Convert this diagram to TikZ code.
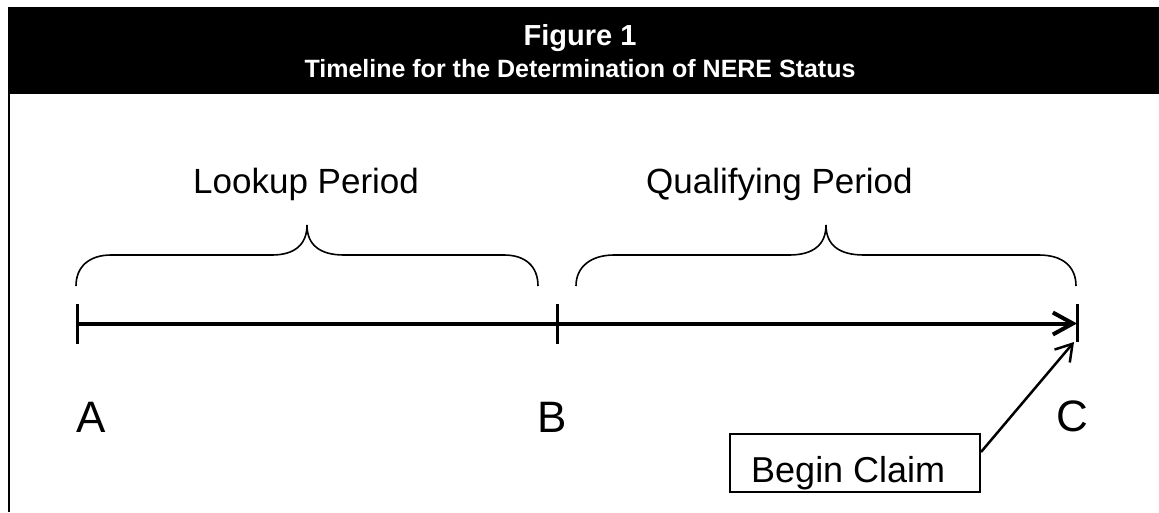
\documentclass[tikz,border=0pt]{standalone}
\usepackage{fontspec}
\setmainfont{Liberation Sans}
\usetikzlibrary{arrows.meta}
\begin{document}
\begin{tikzpicture}[x=1pt,y=-1pt,
  lbl/.style={inner sep=0pt,anchor=base west,font=\fontsize{44}{48}\selectfont},
  period/.style={inner sep=0pt,anchor=base west,font=\fontsize{35}{40}\selectfont},
  hdr/.style={inner sep=0pt,anchor=base,text=white,font=\bfseries},
  brace/.style={line width=1.6pt},
  tick/.style={line width=3pt},
  timeline/.style={line width=4pt,-{Straight Barb[length=20pt,width=22pt]}},
  pointer/.style={line width=2.5pt,-{Straight Barb[length=16pt,width=20pt]}},
  claimbox/.style={draw,line width=2pt,minimum width=250pt,minimum height=58pt,inner sep=0pt}
]
\useasboundingbox (0,0) rectangle (1159,512);
% header
\fill[black] (8,7) rectangle (1159,94);
\draw[line width=2pt] (9,94) -- (9,512);
\node[hdr,font=\bfseries\fontsize{29}{32}\selectfont] (fig) at (580,45) {Figure 1};
\node[hdr,font=\bfseries\fontsize{25}{28}\selectfont] (sub) at (580,77) {Timeline for the Determination of NERE Status};
% period labels
\node[period] (lookup) at (193,193) {Lookup Period};
\node[period] (qual) at (646,193) {Qualifying Period};
% braces
\draw[brace] (76,286) .. controls (76,266) and (90,255) .. (111,255) -- (272,255)
  .. controls (294,255) and (307,245) .. (307,225)
  .. controls (307,245) and (320,255) .. (344,255) -- (504,255)
  .. controls (525,255) and (538,266) .. (538,286);
\draw[brace] (576,286) .. controls (576,266) and (592,255) .. (614,255) -- (789,255)
  .. controls (813,255) and (826,245) .. (826,225)
  .. controls (826,245) and (839,255) .. (864,255) -- (1039,255)
  .. controls (1062,255) and (1076,266) .. (1076,286);
% timeline
\coordinate (A) at (77,323.5);
\coordinate (B) at (557,323.5);
\coordinate (C) at (1077,323.5);
\draw[timeline] (A) -- (C);
\draw[tick] ([yshift=20pt]A) -- ([yshift=-20pt]A);
\draw[tick] ([yshift=20pt]B) -- ([yshift=-20pt]B);
\draw[tick] ([yshift=20pt]C) -- ([yshift=-18pt]C);
% letters
\node[lbl] (la) at (76,432) {A};
\node[lbl] (lb) at (537,432) {B};
\node[lbl] (lc) at (1056,431) {C};
% begin claim box
\node[claimbox] (claim) at (855,463) {};
\node[inner sep=0pt,anchor=base west,font=\fontsize{36}{40}\selectfont] (claimtxt) at (751,482) {Begin Claim};
\coordinate (ptip) at (1074,342);
\draw[pointer] ([yshift=-19pt]claim.north east) -- (ptip);
\end{tikzpicture}
\end{document}
